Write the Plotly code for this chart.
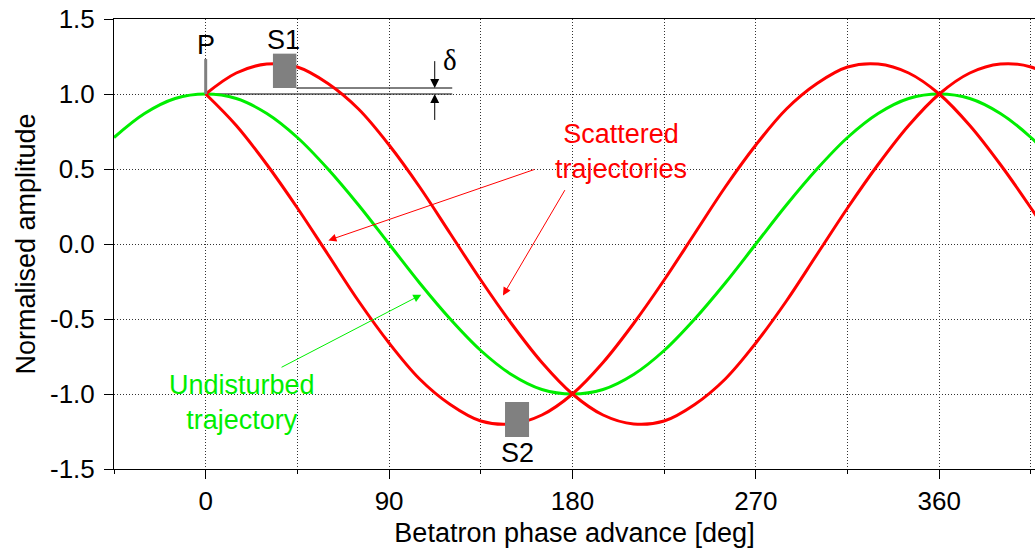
import plotly.graph_objects as go

# ---- data ----
phase_deg = [-45, -30, -15, 0, 15, 30, 45, 60, 75, 90, 105, 120, 135, 150, 165, 180,
             195, 210, 225, 240, 255, 270, 285, 300, 315, 330, 345, 360, 375, 390, 405, 420]
undisturbed = [0.71, 0.87, 0.97, 1.00, 0.97, 0.87, 0.71, 0.50, 0.26, 0.00, -0.26, -0.50,
               -0.71, -0.87, -0.97, -1.00, -0.97, -0.87, -0.71, -0.50, -0.26, 0.00, 0.26,
               0.50, 0.71, 0.87, 0.97, 1.00, 0.97, 0.87, 0.71, 0.50]
scattered_phase = [0, 15, 30, 45, 60, 75, 90, 105, 120, 135, 150, 165, 180,
                   195, 210, 225, 240, 255, 270, 285, 300, 315, 330, 345, 360, 375, 390, 405, 420]
scattered_a = [1.00, 1.14, 1.20, 1.18, 1.07, 0.90, 0.66, 0.38, 0.07,
               -0.24, -0.53, -0.79, -1.00, -1.14, -1.20, -1.18, -1.07, -0.90, -0.66, -0.38,
               -0.07, 0.24, 0.53, 0.79, 1.00, 1.14, 1.20, 1.18, 1.07]
scattered_b = [1.00, 0.79, 0.53, 0.24, -0.07, -0.38, -0.66, -0.90, -1.07,
               -1.18, -1.20, -1.14, -1.00, -0.79, -0.53, -0.24, 0.07, 0.38, 0.66, 0.90,
               1.07, 1.18, 1.20, 1.14, 1.00, 0.79, 0.53, 0.24, -0.07]

x_tick_vals = [0, 90, 180, 270, 360]
x_tick_text = ["0", "90", "180", "270", "360"]
y_tick_vals = [-1.5, -1.0, -0.5, 0.0, 0.5, 1.0, 1.5]
y_tick_text = ["-1.5", "-1.0", "-0.5", "0.0", "0.5", "1.0", "1.5"]

RED = "#ff0000"
GREEN = "#00ee00"
GRAY = "#808080"
FONT = "Liberation Sans, Arial, sans-serif"

fig = go.Figure()
fig.add_trace(go.Scatter(x=phase_deg, y=undisturbed, mode="lines",
                         line=dict(color=GREEN, width=3, shape="spline"),
                         showlegend=False, hoverinfo="skip"))
fig.add_trace(go.Scatter(x=scattered_phase, y=scattered_a, mode="lines",
                         line=dict(color=RED, width=3, shape="spline"),
                         showlegend=False, hoverinfo="skip"))
fig.add_trace(go.Scatter(x=scattered_phase, y=scattered_b, mode="lines",
                         line=dict(color=RED, width=3, shape="spline"),
                         showlegend=False, hoverinfo="skip"))

shapes = [
    dict(type="line", x0=44.5, x1=121, y0=1.04, y1=1.04, line=dict(color="black", width=1), layer="below"),
    dict(type="line", x0=0, x1=121, y0=1.0, y1=1.0, line=dict(color="black", width=1), layer="below"),
    dict(type="rect", x0=33.0, x1=44.5, y0=1.04, y1=1.269, fillcolor=GRAY, line=dict(width=0)),
    dict(type="rect", x0=146.9, x1=158.7, y0=-1.287, y1=-1.053, fillcolor=GRAY, line=dict(width=0)),
    dict(type="line", x0=0, x1=0, y0=1.0, y1=1.233, line=dict(color=GRAY, width=3)),
]

def arrow(x, y, ax, ay, color, size=1.6):
    return dict(x=x, y=y, ax=ax, ay=ay, xref="x", yref="y", axref="x", ayref="y",
                text="", showarrow=True, arrowhead=2, arrowsize=size, arrowwidth=1,
                arrowcolor=color, standoff=0, startstandoff=0)

def label(x, y, text, color="black", size=27, family=FONT):
    return dict(x=x, y=y, xref="x", yref="y", text=text, showarrow=False,
                font=dict(family=family, size=size, color=color),
                xanchor="center", yanchor="middle", align="center")

annotations = [
    arrow(60.2, 0.024, 162.0, 0.50, RED),
    arrow(145.9, -0.343, 176.7, 0.369, RED),
    arrow(105.8, -0.338, 36.5, -0.827, GREEN),
    arrow(112.4, 1.04, 112.4, 1.229, "black", 1.8),
    arrow(112.4, 1.0, 112.4, 0.817, "black", 1.8),
    label(0, 1.33, "P"),
    label(38.1, 1.362, "S1"),
    label(152.8, -1.391, "S2"),
    label(119.9, 1.229, "δ", size=29, family="Liberation Serif, Times New Roman, serif"),
    label(203.9, 0.619, "Scattered<br>trajectories", color=RED),
    label(17.8, -1.059, "Undisturbed<br>trajectory", color=GREEN),
]

grid = dict(showgrid=True, gridcolor="#333333", gridwidth=1, griddash="1px,2px")

fig.update_layout(
    width=1035, height=548,
    margin=dict(l=114, r=0, t=19, b=79),
    paper_bgcolor="white", plot_bgcolor="white",
    shapes=shapes, annotations=annotations,
    font=dict(family=FONT, size=26, color="black"),
    xaxis=dict(range=[-45, 407], tickmode="array", tickvals=x_tick_vals, ticktext=x_tick_text,
               ticks="outside", ticklen=9, tickwidth=1, tickcolor="black",
               showline=True, linecolor="black", linewidth=1, mirror=True,
               zeroline=False, tickfont=dict(family=FONT, size=26, color="black"),
               title=dict(text="Betatron phase advance [deg]", standoff=8,
                          font=dict(family=FONT, size=27, color="black")),
               minor=dict(tickmode="linear", tick0=-45, dtick=45, ticks="outside", ticklen=4,
                          tickcolor="black", **grid),
               **grid),
    yaxis=dict(range=[-1.5, 1.5], tickmode="array", tickvals=y_tick_vals, ticktext=y_tick_text,
               ticks="outside", ticklen=9, tickwidth=1, tickcolor="black",
               showline=True, linecolor="black", linewidth=1, mirror=False,
               zeroline=False, ticklabelstandoff=4,
               tickfont=dict(family=FONT, size=26, color="black"),
               title=dict(text="Normalised amplitude", standoff=6,
                          font=dict(family=FONT, size=27, color="black")),
               **grid),
)

fig.write_html("out.html")
